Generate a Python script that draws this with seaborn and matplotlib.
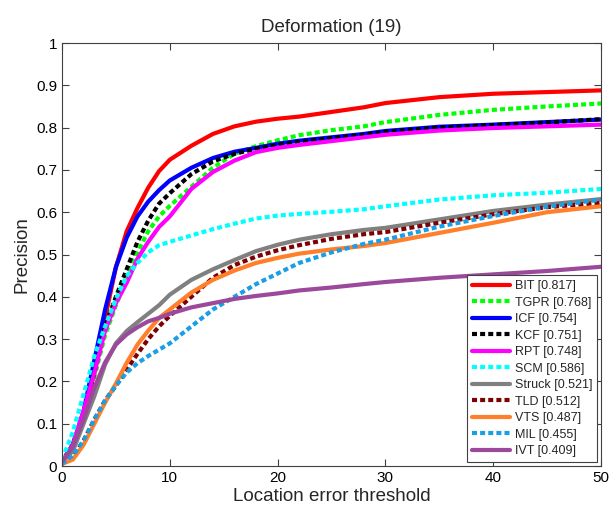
import matplotlib
matplotlib.use("Agg")
import matplotlib.pyplot as plt
import seaborn as sns
import pandas as pd

thresholds = [0, 1, 2, 3, 4, 5, 6, 7, 8, 9, 10, 12, 14, 16, 18, 20, 22, 25, 28, 30, 35, 40, 45, 50]

bit    = [0.01, 0.05, 0.12, 0.22, 0.35, 0.47, 0.555, 0.61, 0.658, 0.697, 0.724, 0.757, 0.785, 0.803, 0.814, 0.821, 0.826, 0.837, 0.848, 0.858, 0.872, 0.880, 0.884, 0.888]
tgpr   = [0.01, 0.05, 0.12, 0.21, 0.31, 0.38, 0.441, 0.505, 0.555, 0.59, 0.615, 0.66, 0.705, 0.738, 0.756, 0.77, 0.782, 0.794, 0.803, 0.813, 0.830, 0.842, 0.850, 0.857]
icf    = [0.01, 0.05, 0.13, 0.25, 0.37, 0.47, 0.54, 0.59, 0.625, 0.652, 0.675, 0.705, 0.728, 0.743, 0.752, 0.762, 0.769, 0.777, 0.785, 0.792, 0.802, 0.807, 0.813, 0.819]
kcf    = [0.01, 0.05, 0.12, 0.22, 0.33, 0.40, 0.465, 0.53, 0.58, 0.62, 0.645, 0.69, 0.72, 0.738, 0.75, 0.759, 0.766, 0.775, 0.783, 0.79, 0.80, 0.806, 0.812, 0.82]
rpt    = [0.01, 0.05, 0.13, 0.22, 0.32, 0.385, 0.433, 0.49, 0.53, 0.565, 0.59, 0.655, 0.695, 0.722, 0.742, 0.752, 0.759, 0.768, 0.777, 0.783, 0.793, 0.799, 0.803, 0.807]
scm    = [0.015, 0.08, 0.17, 0.26, 0.33, 0.395, 0.449, 0.48, 0.505, 0.522, 0.53, 0.545, 0.56, 0.573, 0.585, 0.592, 0.596, 0.601, 0.607, 0.614, 0.630, 0.640, 0.646, 0.655]
struck = [0.01, 0.035, 0.10, 0.165, 0.24, 0.29, 0.319, 0.34, 0.36, 0.38, 0.405, 0.44, 0.465, 0.487, 0.508, 0.523, 0.535, 0.548, 0.558, 0.563, 0.583, 0.603, 0.618, 0.631]
tld    = [0.005, 0.02, 0.06, 0.11, 0.155, 0.19, 0.228, 0.265, 0.30, 0.33, 0.355, 0.40, 0.445, 0.475, 0.495, 0.51, 0.522, 0.537, 0.548, 0.553, 0.575, 0.595, 0.612, 0.622]
vts    = [0.005, 0.015, 0.05, 0.10, 0.15, 0.195, 0.244, 0.287, 0.32, 0.35, 0.37, 0.41, 0.44, 0.462, 0.48, 0.492, 0.502, 0.512, 0.52, 0.527, 0.551, 0.575, 0.600, 0.614]
mil    = [0.005, 0.025, 0.06, 0.11, 0.155, 0.19, 0.221, 0.243, 0.26, 0.275, 0.29, 0.33, 0.37, 0.40, 0.43, 0.455, 0.48, 0.505, 0.525, 0.535, 0.566, 0.591, 0.613, 0.630]
ivt    = [0.01, 0.045, 0.11, 0.185, 0.245, 0.287, 0.311, 0.328, 0.342, 0.35, 0.36, 0.375, 0.385, 0.395, 0.402, 0.408, 0.415, 0.422, 0.43, 0.435, 0.445, 0.453, 0.461, 0.471]

labels = ["BIT [0.817]", "TGPR [0.768]", "ICF [0.754]", "KCF [0.751]", "RPT [0.748]",
          "SCM [0.586]", "Struck [0.521]", "TLD [0.512]", "VTS [0.487]", "MIL [0.455]", "IVT [0.409]"]
series = [bit, tgpr, icf, kcf, rpt, scm, struck, tld, vts, mil, ivt]
colors = ["#FF0000", "#00FF00", "#0000FF", "#000000", "#FF00FF", "#00FFFF",
          "#808080", "#7F0000", "#FF7F2A", "#1A9EE6", "#9B4A9B"]
dashed = [False, True, False, True, False, True, False, True, False, True, False]

xticks = [0, 10, 20, 30, 40, 50]
yticks = [0, 0.1, 0.2, 0.3, 0.4, 0.5, 0.6, 0.7, 0.8, 0.9, 1]
ytick_labels = ["0", "0.1", "0.2", "0.3", "0.4", "0.5", "0.6", "0.7", "0.8", "0.9", "1"]

sns.set_style("white")
plt.rcParams["font.family"] = ["Liberation Sans", "DejaVu Sans"]

fig = plt.figure(figsize=(6.1, 5.11), dpi=100)
ax = fig.add_axes([62 / 610, 45 / 511, (601 - 62) / 610, (466 - 43) / 511])

for lab, vals, col, dsh in zip(labels, series, colors, dashed):
    df = pd.DataFrame({"thr": thresholds, "prec": vals})
    ls = (0, (1.2, 0.75)) if dsh else "-"
    sns.lineplot(data=df, x="thr", y="prec", ax=ax, color=col, linewidth=3,
                 linestyle=ls, label=lab, legend=False)

ax.set_xlim(0, 50)
ax.set_ylim(0, 1)
ax.set_xticks(xticks)
ax.set_xticklabels([str(t) for t in xticks])
ax.set_yticks(yticks)
ax.set_yticklabels(ytick_labels)
ax.tick_params(direction="in", length=5, width=0.8, colors="#404040", labelcolor="black",
               labelsize=11, top=True, right=True, bottom=True, left=True)
for sp in ax.spines.values():
    sp.set_visible(True)
    sp.set_color("#404040")
    sp.set_linewidth(0.8)

ax.set_xlabel("Location error threshold", fontsize=13.5, labelpad=2)
ax.set_ylabel("Precision", fontsize=13.5, labelpad=4)
ax.set_title("Deformation (19)", fontsize=13.5, pad=8)

leg = ax.legend(loc="lower right", fontsize=9, handlelength=3.0, handletextpad=0.4,
                labelspacing=0.36, borderpad=0.4, borderaxespad=0.3,
                fancybox=False, framealpha=1, edgecolor="#404040")
leg.get_frame().set_linewidth(0.8)

fig.savefig("out.png", dpi=100)
